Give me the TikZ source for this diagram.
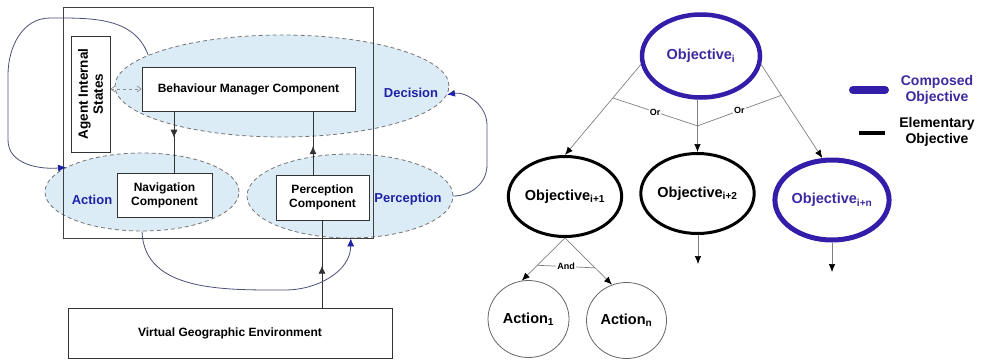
\documentclass[tikz,border=0pt]{standalone}
\usepackage{fontspec}
\setmainfont{Liberation Sans}
\usetikzlibrary{shapes.geometric,arrows.meta,decorations.markings,calc}
\definecolor{lblue}{RGB}{220,236,247}
\definecolor{dblue}{RGB}{30,35,165}
\definecolor{oblue}{RGB}{50,30,168}
\definecolor{otext}{RGB}{62,42,160}
\definecolor{curvec}{RGB}{75,80,120}
\begin{document}
\begin{tikzpicture}[x=1pt,y=-1pt,
  box/.style={draw=black!80, fill=white, font=\bfseries\fontsize{12}{14}\selectfont, align=center, inner sep=0pt, line width=0.8pt},
  zone/.style={ellipse, draw=black!55, dash pattern=on 4pt off 3pt, fill=lblue, line width=0.8pt, inner sep=0pt},
  zlabel/.style={text=dblue, font=\bfseries\fontsize{13}{15}\selectfont},
  midarrow/.style={postaction={decorate}, decoration={markings, mark=at position #1 with {\arrow{Latex[length=8pt,width=7pt]}}}},
  conn/.style={draw=black!80, line width=0.7pt},
  loopc/.style={draw=curvec, line width=0.8pt, -{Latex[length=8pt,width=7pt,dblue]}},
  obj/.style={ellipse, inner sep=0pt, font=\bfseries\fontsize{14.5}{16}\selectfont},
  tree/.style={draw=black!50, line width=0.7pt},
  treetip/.style={-{Latex[length=8pt,width=6.5pt,black]}},
  gate/.style={fill=white, inner sep=1pt, font=\bfseries\fontsize{9}{10}\selectfont},
  legtext/.style={font=\bfseries\fontsize{14}{16}\selectfont, align=center}
]
\useasboundingbox (0,0) rectangle (984,359);

% ---------------- left diagram ----------------
\node[zone, minimum width=334, minimum height=102] (dec) at (282,86) {};
\node[zone, minimum width=194, minimum height=78] (act) at (142,192) {};
\node[zone, minimum width=206, minimum height=84] (per) at (350,196) {};
\node[draw=black!75, line width=0.9pt, minimum width=310, minimum height=231, inner sep=0pt] (outer) at (218,122.5) {};

\node[box, rotate=90, minimum width=116, minimum height=39, font=\bfseries\fontsize{13.5}{15}\selectfont] (agent) at (90.5,94) {Agent Internal\\States};
\node[box, minimum width=213, minimum height=44] (bm) at (248.5,89) {Behaviour Manager Component};
\node[box, minimum width=95, minimum height=44] (nav) at (164.5,195) {Navigation\\Component};
\node[box, minimum width=93, minimum height=45] (pc) at (322.5,197.5) {Perception\\Component};
\node[box, minimum width=324, minimum height=50] (vge) at (230,333) {Virtual Geographic Environment};

\node[zlabel] (ldec) at (411,93) {Decision};
\node[zlabel] (lact) at (92,200) {Action};
\node[zlabel] (lper) at (408,199) {Perception};

\coordinate (xnav) at (174,0);
\coordinate (xper) at (313,0);
\coordinate (xvge) at (322,0);
\draw[conn, midarrow=0.43] (bm.south -| xnav) -- (nav.north -| xnav);
\draw[conn, midarrow=0.45] (pc.north -| xper) -- (bm.south -| xper);
\draw[conn, midarrow=0.48] (vge.north -| xvge) -- (pc.south -| xvge);
\draw[draw=black!45, dashed, line width=0.7pt, {Straight Barb[length=4pt,width=6pt]}-{Straight Barb[length=4pt,width=6pt]}] (agent.south |- bm.west) -- (bm.west);

\draw[loopc] (dec.167) to[out=110,in=0] (50,18) to[out=180,in=90] (8,75) -- (8,140) to[out=-90,in=185] (act.162);
\draw[loopc] (per.east) to[out=0,in=-90] (487,165) -- (487,125) to[out=90,in=10] (dec.-3);
\draw[loopc] (act.south) to[out=-88,in=180] (285,290) to[out=0,in=-90] (per.-89);

% ---------------- right diagram ----------------
\node[obj, draw=oblue, line width=4.5pt, text=otext, minimum width=118, minimum height=83] (oi) at (701,56) {Objective\textsubscript{i}};
\node[obj, draw=black, line width=3pt, minimum width=101, minimum height=80] (o1) at (565,196.5) {Objective\textsubscript{i+1}};
\node[obj, draw=black, line width=3pt, minimum width=98, minimum height=80] (o2) at (697.5,193.5) {Objective\textsubscript{i+2}};
\node[obj, draw=oblue, line width=5pt, text=otext, minimum width=109, minimum height=80] (on) at (832,200) {Objective\textsubscript{i+n}};
\node[obj, draw=black!60, line width=0.8pt, minimum width=81, minimum height=77] (a1) at (528.5,319) {Action\textsubscript{1}};
\node[obj, draw=black!60, line width=0.8pt, minimum width=80, minimum height=76] (an) at (626.5,320.5) {Action\textsubscript{n}};

\draw[tree, treetip] (oi.188) -- (o1.north) coordinate[pos=0.37] (orl);
\draw[tree, treetip] (o2.north |- oi.south) -- (o2.north) coordinate[pos=0.5] (orm);
\draw[tree, treetip] (oi.-8) -- (on.103) coordinate[pos=0.33] (orr);
\draw[tree] (orl) -- (orm) node[gate, midway] {Or};
\draw[tree] (orm) -- (orr) node[gate, midway] {Or};

\coordinate (o2end) at (698,264);
\coordinate (onend) at (832,272);
\draw[tree, treetip] (o2.south -| o2end) -- (o2end);
\draw[tree, treetip] (on.south -| onend) -- (onend);

\draw[tree, treetip] (o1.south) -- (a1.100) coordinate[pos=0.64] (andl);
\draw[tree, treetip] (o1.south) -- (an.112) coordinate[pos=0.64] (andr);
\draw[tree] (andl) -- (andr) node[gate, midway] {And};

% legend
\coordinate (lc1) at (853,90);
\coordinate (lc2) at (885,90);
\coordinate (le1) at (859,133);
\coordinate (le2) at (885,133);
\draw[oblue, line width=8pt, line cap=round] (lc1) -- (lc2);
\draw[black, line width=3.5pt] (le1) -- (le2);
\node[legtext, text=otext] (lcomp) at (937,90) {Composed\\Objective};
\node[legtext] (lelem) at (937,132) {Elementary\\Objective};
\end{tikzpicture}
\end{document}
